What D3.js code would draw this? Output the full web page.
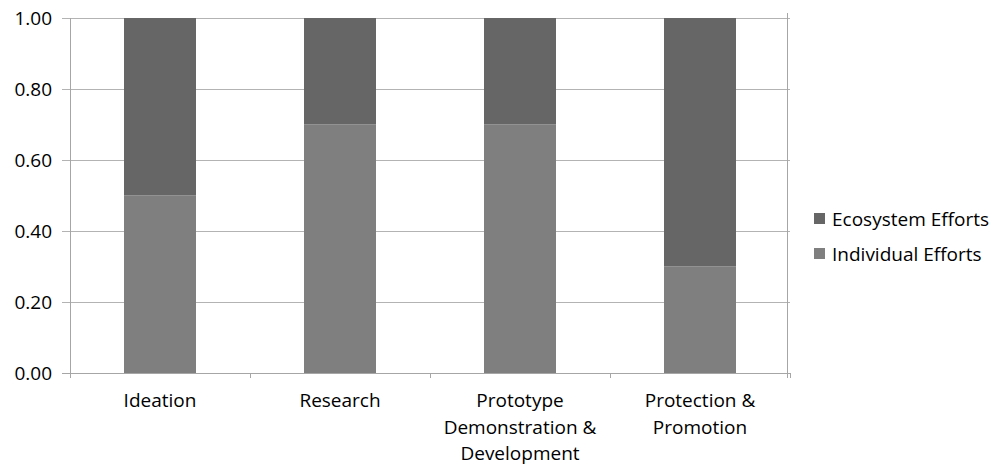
<!DOCTYPE html>
<html>
<head>
<meta charset="utf-8">
<script src="https://cdn.jsdelivr.net/npm/d3@7"></script>
<style>
  body { margin: 0; background: #fff; }
  text { font-family: 'Open Sans', sans-serif; fill: #000; }
</style>
</head>
<body>
<svg id="chart" width="993" height="466"></svg>
<script>
const categories = [['Ideation'], ['Research'], ['Prototype', 'Demonstration &', 'Development'], ['Protection &', 'Promotion']]
const individual = [0.5, 0.7, 0.7, 0.3]
const ecosystem = [0.5, 0.3, 0.3, 0.7]
const yTicks = [0, 0.2, 0.4, 0.6, 0.8, 1.0]
const seriesNames = ['Ecosystem Efforts', 'Individual Efforts']
const colors = { 'Individual Efforts': '#7f7f7f', 'Ecosystem Efforts': '#666666' }

const svg = d3.select('#chart')
const plotLeft = 70, plotRight = 790, plotTop = 18, plotBottom = 373
const FONT = '19px'

const x = d3.scaleBand()
  .domain(d3.range(categories.length))
  .range([plotLeft, plotRight])
  .paddingInner(0.6)
  .paddingOuter(0.3)

const y = d3.scaleLinear().domain([0, 1]).range([plotBottom, plotTop])

// gridlines
svg.selectAll('.grid')
  .data(yTicks)
  .enter().append('line')
  .attr('x1', plotLeft - 8).attr('x2', plotRight)
  .attr('y1', d => y(d) + 0.5).attr('y2', d => y(d) + 0.5)
  .attr('stroke', '#b3b3b3').attr('stroke-width', 1)

// y tick labels
svg.selectAll('.ylab')
  .data(yTicks)
  .enter().append('text')
  .attr('x', 52)
  .attr('y', d => y(d))
  .attr('dy', '0.35em')
  .attr('text-anchor', 'end')
  .attr('font-size', FONT)
  .text(d => d3.format('.2f')(d))

// stacked bars
const rows = categories.map((c, i) => ({ i, 'Individual Efforts': individual[i], 'Ecosystem Efforts': ecosystem[i] }))
const stack = d3.stack().keys(['Individual Efforts', 'Ecosystem Efforts'])(rows)

svg.selectAll('.series')
  .data(stack)
  .enter().append('g')
  .attr('fill', s => colors[s.key])
  .selectAll('rect')
  .data(s => s)
  .enter().append('rect')
  .attr('x', d => x(d.data.i))
  .attr('width', x.bandwidth())
  .attr('y', d => y(d[1]))
  .attr('height', d => y(d[0]) - y(d[1]))

// axes lines
svg.append('line')
  .attr('x1', plotLeft + 0.5).attr('x2', plotLeft + 0.5)
  .attr('y1', plotTop).attr('y2', plotBottom + 5)
  .attr('stroke', '#a6a6a6')
svg.append('line')
  .attr('x1', 787.5).attr('x2', 787.5)
  .attr('y1', plotTop - 5).attr('y2', plotBottom + 5)
  .attr('stroke', '#a6a6a6')
svg.append('line')
  .attr('x1', plotLeft - 8).attr('x2', plotRight)
  .attr('y1', plotBottom + 0.5).attr('y2', plotBottom + 0.5)
  .attr('stroke', '#a6a6a6')

// category ticks
const step = (plotRight - plotLeft) / categories.length
svg.selectAll('.ctick')
  .data(d3.range(categories.length + 1))
  .enter().append('line')
  .attr('x1', d => plotLeft + d * step + 0.5).attr('x2', d => plotLeft + d * step + 0.5)
  .attr('y1', plotBottom).attr('y2', plotBottom + 5)
  .attr('stroke', '#a6a6a6')

// category labels
svg.selectAll('.clab')
  .data(categories)
  .enter().append('text')
  .attr('text-anchor', 'middle')
  .attr('font-size', FONT)
  .attr('transform', (d, i) => `translate(${x(i) + x.bandwidth() / 2},${407})`)
  .selectAll('tspan')
  .data(d => d)
  .enter().append('tspan')
  .attr('x', 0)
  .attr('y', (d, j) => j * 26.5)
  .text(d => d)

// legend
const legend = svg.selectAll('.legend')
  .data(seriesNames)
  .enter().append('g')
  .attr('transform', (d, i) => `translate(814,${213 + i * 35})`)
legend.append('rect')
  .attr('width', 11).attr('height', 11)
  .attr('fill', d => colors[d])
legend.append('text')
  .attr('x', 18).attr('y', 6).attr('dy', '0.35em')
  .attr('font-size', FONT)
  .text(d => d)
</script>
</body>
</html>
